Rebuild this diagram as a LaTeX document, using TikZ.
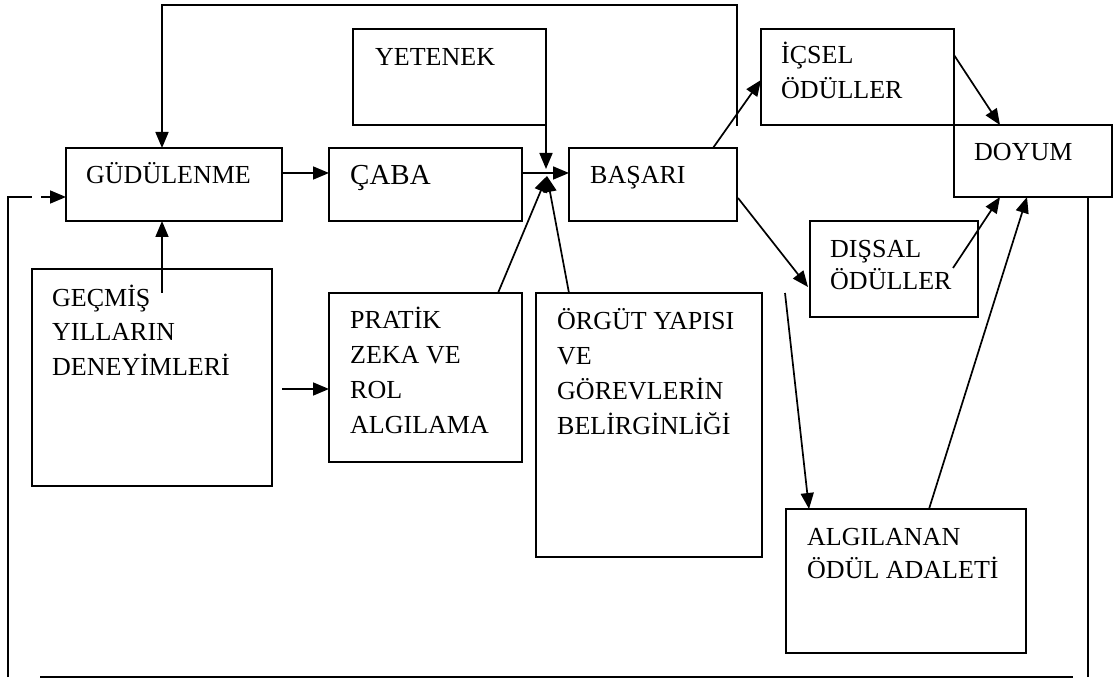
\documentclass[tikz,border=0pt]{standalone}
\usepackage{fontspec}
\setmainfont{Liberation Serif}
\usetikzlibrary{arrows.meta,calc}
\tikzset{
 box/.style={draw, line width=1.9pt, anchor=north west, inner sep=0pt, outer sep=0pt},
 lbl/.style={anchor=base west, inner sep=0pt, align=left, font=\fontsize{26}{35}\selectfont},
 con/.style={line width=1.7pt},
 arr/.style={con, -{Triangle[length=16pt,width=13pt]}},
}
\begin{document}
\begin{tikzpicture}[x=1pt,y=-1pt]
\useasboundingbox (0,0) rectangle (1116,684);
% boxes
\node[box, minimum width=216, minimum height=73] (gud) at (66,148) {};
\node[box, minimum width=193, minimum height=73] (caba) at (329,148) {};
\node[box, minimum width=193, minimum height=96] (yet) at (353,29) {};
\node[box, minimum width=168, minimum height=73] (bas) at (569,148) {};
\node[box, minimum width=193, minimum height=96] (icsel) at (761,29) {};
\node[box, minimum width=158, minimum height=72] (doyum) at (954,125) {};
\node[box, minimum width=168, minimum height=96] (dissal) at (810,221) {};
\node[box, minimum width=240, minimum height=217] (gecmis) at (32,269) {};
\node[box, minimum width=193, minimum height=169] (pratik) at (329,293) {};
\node[box, minimum width=226, minimum height=264] (orgut) at (536,293) {};
\node[box, minimum width=240, minimum height=144] (algi) at (786,509) {};
% texts (base anchor = baseline of the last line)
\node[lbl] (tgud) at (86,184) {GÜDÜLENME};
\node[lbl, font=\fontsize{29}{35}\selectfont] (tcaba) at (350,185) {ÇABA};
\node[lbl] (tyet) at (375,66) {YETENEK};
\node[lbl] (tbas) at (590,184) {BAŞARI};
\node[lbl] (ticsel) at (781,99) {İÇSEL\\ÖDÜLLER};
\node[lbl] (tdoyum) at (974,161) {DOYUM};
\node[lbl, font=\fontsize{26}{32}\selectfont] (tdissal) at (830,290) {DIŞSAL\\ÖDÜLLER};
\node[lbl, font=\fontsize{26}{34.5}\selectfont] (tgecmis) at (52,375) {GEÇMİŞ\\YILLARIN\\DENEYİMLERİ};
\node[lbl] (tpratik) at (350,433) {PRATİK\\ZEKA VE\\ROL\\ALGILAMA};
\node[lbl] (torgut) at (557,434) {ÖRGÜT YAPISI\\VE\\GÖREVLERİN\\BELİRGİNLİĞİ};
\node[lbl, font=\fontsize{26}{33}\selectfont] (talgi) at (807,578) {ALGILANAN\\ÖDÜL ADALETİ};
% connectors
\coordinate (fb) at (737,126);
\coordinate (tl) at (162,5);
\draw[arr] (fb) |- (tl) -- (tl |- gud.north);
\coordinate (r1) at (0,173);
\draw[arr] (gud.east |- r1) -- (caba.west |- r1);
\draw[arr] (caba.east |- r1) -- (bas.west |- r1);
\coordinate (Jd) at (546,169);
\coordinate (Ju) at (547,176);
\draw[arr] (yet.south east) -- (Jd);
\draw[arr] ($(pratik.north west)+(169,0)$) -- (Ju);
\draw[arr] ($(orgut.north west)+(33,0)$) -- (Ju);
\coordinate (g0) at (162,293);
\draw[arr] (g0) -- (g0 |- gud.south);
\coordinate (p0) at (282,389);
\draw[arr] (p0) -- (p0 -| pratik.west);
\coordinate (lb) at (8,677);
\coordinate (d1) at (32,197);
\coordinate (d2) at (41,197);
\draw[con] (lb) |- (d1);
\draw[arr] (d2) -- (d2 -| gud.west);
\coordinate (b1) at (40,677);
\coordinate (b2) at (1073,677);
\draw[line width=2.3pt] (b1) -- (b2);
\coordinate (rb) at (1088,677);
\draw[con] (rb) -- (rb |- doyum.south);
\draw[arr] ($(bas.north east)+(-24,0)$) -- ($(icsel.north west)+(0,51)$);
\draw[arr] ($(icsel.north east)+(0,26)$) -- ($(doyum.north west)+(46,0)$);
\draw[arr] ($(bas.south east)+(1,-23)$) -- ($(dissal.north west)+(-2,66)$);
\draw[arr] ($(dissal.north west)+(143,47)$) -- ($(doyum.south west)+(46,0)$);
\coordinate (a0) at (785,293);
\draw[arr] (a0) -- ($(algi.north west)+(23,0)$);
\draw[arr] ($(algi.north west)+(143,0)$) -- ($(doyum.south west)+(73,0)$);
\end{tikzpicture}
\end{document}
